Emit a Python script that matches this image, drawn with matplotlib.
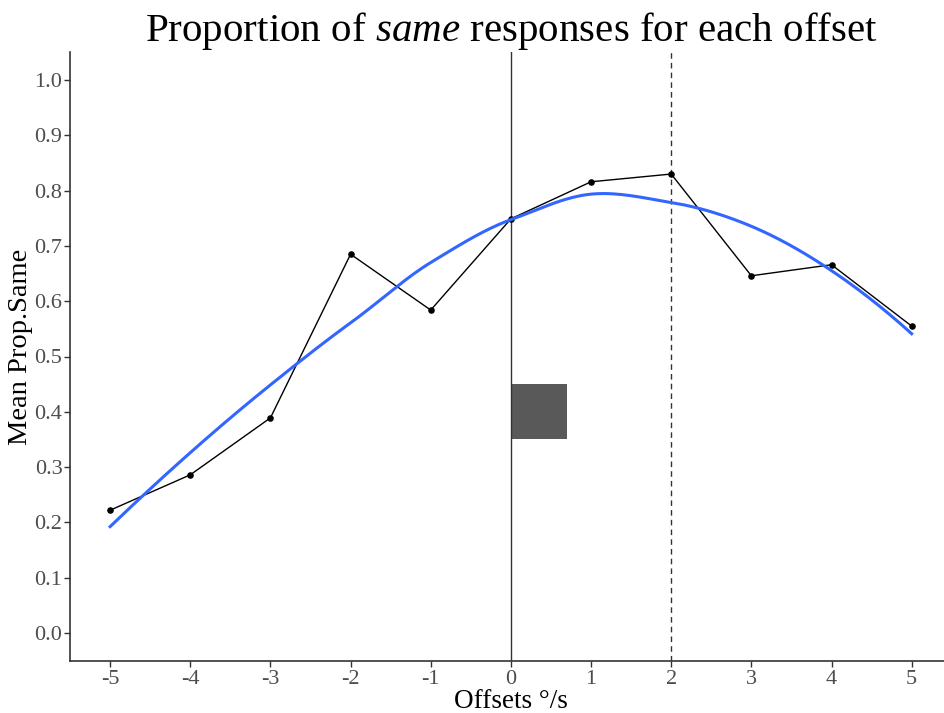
import numpy as np
import matplotlib
matplotlib.use("Agg")
import matplotlib.pyplot as plt
from matplotlib.patches import Rectangle

plt.rcParams['font.family'] = ['Liberation Serif', 'DejaVu Serif']
plt.rcParams['mathtext.fontset'] = 'custom'
plt.rcParams['mathtext.it'] = 'Liberation Serif:italic'
plt.rcParams['mathtext.rm'] = 'Liberation Serif'

# mean proportion of "same" responses per offset (deg/s)
offsets = [-5, -4, -3, -2, -1, 0, 1, 2, 3, 4, 5]
prop_same = [0.222, 0.286, 0.389, 0.685, 0.584, 0.749,
             0.816, 0.830, 0.646, 0.666, 0.555]

# shaded block and reference lines
block_x = [0.0, 0.7]
block_y = [0.35, 0.45]
solid_line_x = 0
dashed_line_x = 2


def local_fit(x, y, x0, n_near=9):
    """local quadratic with tricube weights -> (value, slope) at x0"""
    d = np.abs(x - x0)
    h = np.sort(d)[n_near - 1]
    w = np.clip(1 - (d / h) ** 3, 0, None) ** 3
    X = np.vstack([np.ones_like(x), x - x0, (x - x0) ** 2]).T
    W = np.diag(w)
    beta = np.linalg.solve(X.T @ W @ X, X.T @ W @ y)
    return beta[0], beta[1]


def loess(x, y, xs):
    # fit at the vertices, cubic hermite in between (like R's interpolate)
    x = np.asarray(x, float)
    y = np.asarray(y, float)
    fits = np.array([local_fit(x, y, v) for v in x])
    val, slope = fits[:, 0], fits[:, 1]
    out = []
    for t in xs:
        i = min(np.searchsorted(x, t, side='right') - 1, len(x) - 2)
        dx = x[i + 1] - x[i]
        s = (t - x[i]) / dx
        h00 = 2 * s**3 - 3 * s**2 + 1
        h10 = s**3 - 2 * s**2 + s
        h01 = -2 * s**3 + 3 * s**2
        h11 = s**3 - s**2
        out.append(h00 * val[i] + h10 * dx * slope[i]
                   + h01 * val[i + 1] + h11 * dx * slope[i + 1])
    return np.array(out)


fig = plt.figure(figsize=(9.44, 7.13), dpi=100)
ax = fig.add_axes([0.0742, 0.0735, 0.934, 0.853])

ax.add_patch(Rectangle((block_x[0], block_y[0]), block_x[1] - block_x[0],
                       block_y[1] - block_y[0], facecolor='#595959',
                       edgecolor='none', zorder=1))
ax.axvline(solid_line_x, color='#333333', lw=1.0, zorder=2)
ax.axvline(dashed_line_x, color='#333333', lw=1.0, ls=(0, (4, 3)), zorder=2)

ax.plot(offsets, prop_same, color='black', lw=1.0, zorder=3)
ax.scatter(offsets, prop_same, s=14, color='black', zorder=4)

xs = np.linspace(offsets[0], offsets[-1], 300)
ax.plot(xs, loess(offsets, prop_same, xs), color='#3366FF', lw=2.2, zorder=5)

ax.set_xlim(-5.5, 5.5)
ax.set_ylim(-0.05, 1.05)
ax.set_xticks(offsets)
ax.set_xticklabels([str(o) for o in offsets])
yt = np.round(np.arange(0, 1.01, 0.1), 1)
ax.set_yticks(yt)
ax.set_yticklabels(['%.1f' % v for v in yt])

for side in ['top', 'right']:
    ax.spines[side].set_visible(False)
for side in ['left', 'bottom']:
    ax.spines[side].set_color('#333333')
    ax.spines[side].set_linewidth(1.2)
ax.tick_params(axis='both', colors='#333333', labelcolor='#4d4d4d',
               labelsize=16, length=4, width=1)
ax.tick_params(axis='x', pad=3)
ax.tick_params(axis='y', pad=1.5)

ax.set_xlabel('Offsets \u00b0/s', fontsize=19.5, labelpad=-0.5)
ax.set_ylabel('Mean Prop.Same', fontsize=20.5)
ax.yaxis.set_label_coords(-0.042, 0.516)
ax.set_title(r'Proportion of $\it{same}$ responses for each offset',
             fontsize=29.5, pad=4)

fig.savefig('out.png', dpi=100)
